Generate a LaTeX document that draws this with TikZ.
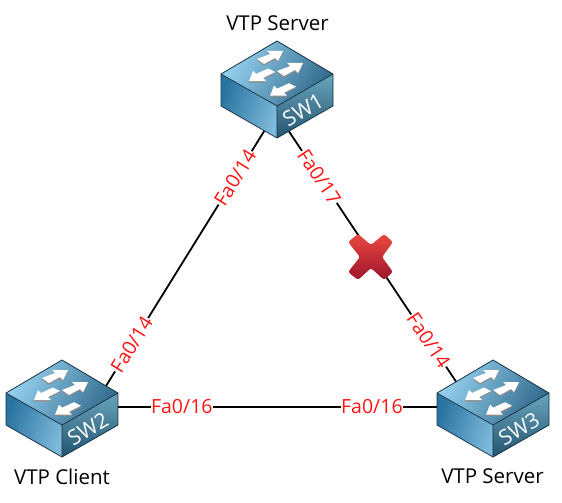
\documentclass[tikz,border=0pt]{standalone}
\usepackage{fontspec}
\setmainfont{Open Sans}
\usetikzlibrary{calc}
\definecolor{lbl}{RGB}{255,20,20}
\definecolor{swedge}{RGB}{25,50,70}
\tikzset{
  x=1pt,y=-1pt,
  portlabel/.style={fill=white,text=lbl,inner xsep=.5pt,inner ysep=0pt,font=\fontsize{19.5}{19}\selectfont,sloped},
  caption/.style={font=\fontsize{20.5}{22}\selectfont,text=black,inner sep=0pt},
  swname/.style={text=white,font=\fontsize{21}{21}\selectfont,inner sep=0pt,rotate=30},
  link/.style={draw=black,line width=1.8pt},
  edgeline/.style={draw=swedge,line width=.8pt,line join=round},
  swbox/.style={minimum width=112pt,minimum height=97pt,inner sep=0pt,draw=none},
  swarrow/.style={fill=white,draw=none},
  swshadow/.style={fill=black!45,draw=none},
  pics/swicon/.style={code={
    \shade[left color={rgb,255:red,40;green,115;blue,160},right color={rgb,255:red,125;green,185;blue,218},shading angle=70]
      (-56,33) -- (0,65) -- (0,97) -- (-56,65) -- cycle;
    \shade[bottom color={rgb,255:red,35;green,85;blue,112},top color={rgb,255:red,105;green,165;blue,190}]
      (56,33) -- (0,65) -- (0,97) -- (56,65) -- cycle;
    \shade[left color={rgb,255:red,150;green,210;blue,240},right color={rgb,255:red,50;green,105;blue,140},shading angle=60]
      (0,0) -- (56,33) -- (0,65) -- (-56,33) -- cycle;
    \draw[edgeline] (0,0) -- (56,33) -- (56,65) -- (0,97) -- (-56,65) -- (-56,33) -- cycle;
    \draw[edgeline] (-56,33) -- (0,65) -- (56,33) (0,65) -- (0,97);
    \foreach \sx/\sy in {0/0,20/12}{
      \fill[swshadow,shift={(\sx,\sy+1.5)}] (-20,18) -- (-7,13) -- (-10,10) -- (6,10) -- (1,20) -- (-2,17) -- (-13,23) -- cycle;
      \fill[swarrow,shift={(\sx,\sy)}] (-20,18) -- (-7,13) -- (-10,10) -- (6,10) -- (1,20) -- (-2,17) -- (-13,23) -- cycle;
    }
    \foreach \sx/\sy in {0/0,21/14.7}{
      \fill[swshadow,shift={(\sx,\sy+1.5)}] (-28,40) -- (-24,30) -- (-21,33) -- (-9,27.5) -- (-2,31) -- (-14,37) -- (-11,40) -- cycle;
      \fill[swarrow,shift={(\sx,\sy)}] (-28,40) -- (-24,30) -- (-21,33) -- (-9,27.5) -- (-2,31) -- (-14,37) -- (-11,40) -- cycle;
    }
  }},
}
\begin{document}
\begin{tikzpicture}[x=1pt,y=-1pt]
\useasboundingbox (0,0) rectangle (562,503);
\node[swbox] (sw1) at (277,89.5) {};
\node[swbox] (sw2) at (62,408.5) {};
\node[swbox] (sw3) at (493,408.5) {};
\draw[link] ([xshift=13pt]sw1.center) -- node[portlabel,pos=.277] (l1) {Fa0/14} node[portlabel,pos=.80] (l2) {Fa0/14} ([xshift=30pt]sw2.center);
\draw[link] ([xshift=-16pt]sw1.center) -- node[portlabel,pos=.274] (l3) {Fa0/17} node[portlabel,pos=.787] (l4) {Fa0/14} ([xshift=-19pt]sw3.center);
\draw[link] ([yshift=1.5pt]sw2.center) -- node[portlabel,pos=.278] (l5) {Fa0/16} node[portlabel,pos=.719] (l6) {Fa0/16} ([yshift=1.5pt]sw3.center);
\pic at (277,41) {swicon};
\pic at (62,360) {swicon};
\pic at (493,360) {swicon};
\node[swname] (t1) at (303,110) {SW1};
\node[swname] (t2) at (88,429) {SW2};
\node[swname] (t3) at (519,429) {SW3};
\node[caption] (c1) at (277.5,23) {VTP Server};
\node[caption] (c2) at (62,476.5) {VTP Client};
\node[caption] (c3) at (492.5,476.5) {VTP Server};
\shade[top color={rgb,255:red,235;green,72;blue,62},bottom color={rgb,255:red,155;green,22;blue,45},rounded corners=2.5pt]
  (348,242) -- (358,234) -- (371,245) -- (384,234) -- (393,242) -- (382,257) -- (393,272) -- (384,280) -- (371,268) -- (358,280) -- (348,272) -- (360,257) -- cycle;
\end{tikzpicture}
\end{document}
